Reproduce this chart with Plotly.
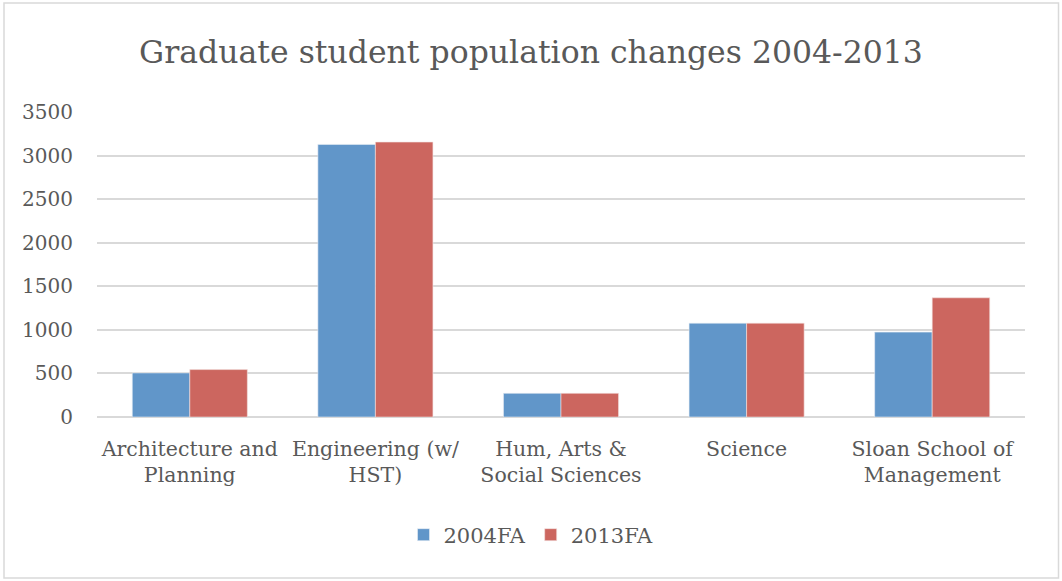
import plotly.graph_objects as go

categories = ["Architecture and<br>Planning", "Engineering (w/<br>HST)", "Hum, Arts &<br>Social Sciences", "Science", "Sloan School of<br>Management"]
series_names = ["2004FA", "2013FA"]
values_2004 = [506, 3128, 272, 1077, 974]
values_2013 = [544, 3155, 272, 1077, 1368]
y_ticks = [0, 500, 1000, 1500, 2000, 2500, 3000, 3500]

W, H = 1062, 581
L, R, T, B = 97, 1025, 112, 417
pw, ph = R - L, B - T

FONT = "DejaVu Serif"
fig = go.Figure()
fig.add_trace(go.Bar(name=series_names[0], x=categories, y=values_2004,
                     marker=dict(color="#6196C9", line=dict(width=0.6, color="#E9EEF5"))))
fig.add_trace(go.Bar(name=series_names[1], x=categories, y=values_2013,
                     marker=dict(color="#CC665F", line=dict(width=0.6, color="#F3E3E1"))))

fig.update_layout(
    width=W, height=H,
    margin=dict(l=L, r=W - R, t=T, b=H - B, pad=0),
    paper_bgcolor="white", plot_bgcolor="white",
    barmode="group", bargap=0.38, bargroupgap=0,
    font=dict(family=FONT, color="#595959", size=20),
    title=dict(text="Graduate student population changes 2004-2013",
               x=0.5, xanchor="center", xref="container",
               y=1 - 52 / H, yanchor="middle",
               font=dict(family=FONT, size=31.5, color="#595959")),
    xaxis=dict(showgrid=False, showline=False, ticks="outside", ticklen=13,
               tickcolor="rgba(0,0,0,0)", tickfont=dict(size=20.5)),
    yaxis=dict(range=[0, 3500], tickvals=y_ticks, showgrid=True, gridcolor="#D9D9D9",
               gridwidth=1.5, zeroline=True, zerolinecolor="#D9D9D9", zerolinewidth=1.5,
               ticks="outside", ticklen=19, tickcolor="rgba(0,0,0,0)", tickfont=dict(size=20)),
    legend=dict(orientation="h", x=(531 - L) / pw, xanchor="center", y=(B - 535) / ph,
                yanchor="middle", font=dict(size=21), itemwidth=30, traceorder="normal"),
    showlegend=True,
)

fig.add_shape(type="rect", xref="paper", yref="paper",
              x0=(4 - L) / pw, x1=(1058.5 - L) / pw,
              y0=(B - 578) / ph, y1=(B - 3) / ph,
              line=dict(color="#D9D9D9", width=1.5), fillcolor="rgba(0,0,0,0)", layer="below")

fig.write_html("out.html", config={"displayModeBar": False})
with open("out.html", encoding="utf-8") as f:
    html = f.read()
html = html.replace("<head>", "<head><style>html,body{margin:0;padding:0;overflow:hidden;}</style>", 1)
with open("out.html", "w", encoding="utf-8") as f:
    f.write(html)
